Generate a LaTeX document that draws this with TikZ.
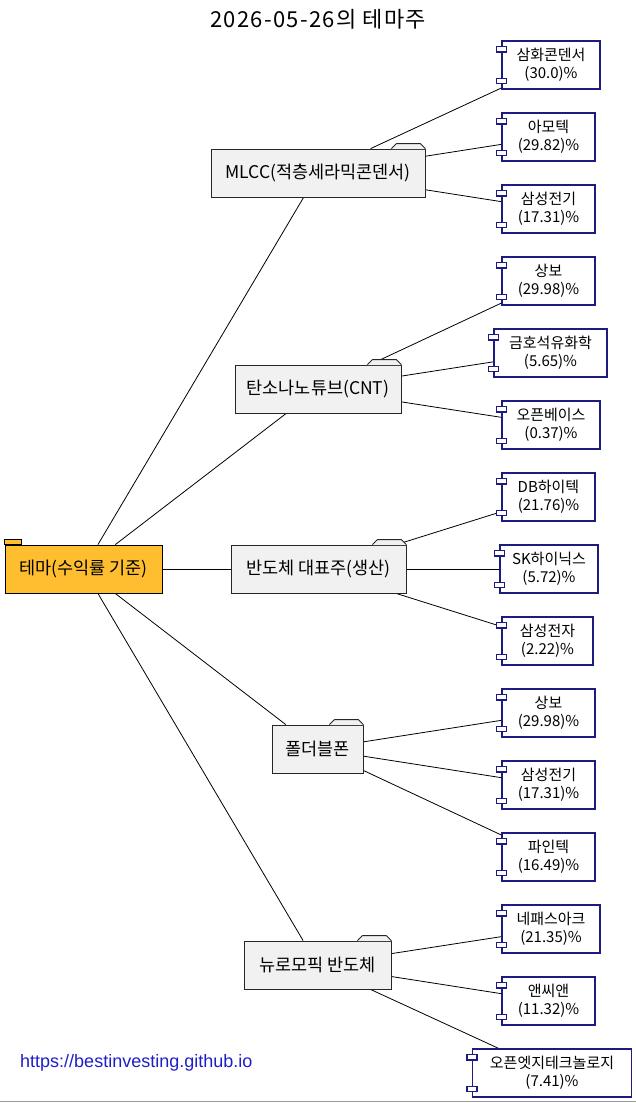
\documentclass[tikz,border=0pt]{standalone}
\usepackage{fontspec}
\setmainfont{Noto Sans CJK KR}
\newfontfamily\urlfont{Liberation Sans}
\newfontfamily\titlefont[LetterSpace=6]{Noto Sans CJK KR}
\usetikzlibrary{backgrounds}
\definecolor{rootfill}{RGB}{254,190,48}
\definecolor{themefill}{RGB}{241,241,241}
\definecolor{compborder}{RGB}{28,28,128}
\definecolor{urlblue}{RGB}{30,30,200}
\newcommand\mkcomp[5]{%
  \node[compbox, minimum width=#4pt] (#1) at (#2,#3) {#5};
  \draw[port] ([xshift=-5pt,yshift=-6pt]#1.north west) rectangle ++(10,5.5);
  \draw[port] ([xshift=-5pt,yshift=6pt]#1.south west) rectangle ++(10,-5.5);
}
\newcommand\mktheme[5]{%
  \node[themebox, minimum width=#4pt] (#1) at (#2,#3) {#5};
  \fill[themefill] ([xshift=-34pt,yshift=-0.6pt]#1.north east) -- ++(5,-5.6) -- ([xshift=-5pt,yshift=5pt]#1.north east) -- ([yshift=-0.6pt]#1.north east) -- cycle;
  \draw[tabline] ([xshift=-34pt]#1.north east) -- ++(5,-5) -- ([xshift=-5pt,yshift=5pt]#1.north east) -- (#1.north east);
}
\begin{document}
\begin{tikzpicture}[x=1pt,y=-1pt,
  rootbox/.style={draw=black, fill=rootfill, minimum height=48pt, inner sep=0pt, font=\fontsize{17.5}{20}\selectfont, line width=0.8pt},
  themebox/.style={draw=black!85, fill=themefill, minimum height=48pt, inner sep=0pt, font=\fontsize{17.5}{20}\selectfont, line width=0.8pt},
  tabline/.style={draw=black!85, line width=0.8pt, line join=round},
  compbox/.style={draw=compborder, fill=white, minimum height=48pt, inner sep=0pt, align=center, font=\fontsize{15}{18}\selectfont, line width=1.1pt},
  port/.style={draw=compborder, fill=white, line width=1.1pt},
  link/.style={draw=black, line width=0.8pt}]
\useasboundingbox (0,0) rectangle (636,1103);

\node[font=\titlefont\fontsize{22}{25}\selectfont] (title) at (318,19) {2026-05-26의 테마주};

% root
\node[rootbox, minimum width=157pt] (root) at (83.5,569) {테마(수익률 기준)};
\draw[draw=black, fill=rootfill, line width=0.8pt] (root.north west) rectangle ++(17,-5);

% themes
\mktheme{m1}{318}{173}{214}{MLCC(적층세라믹콘덴서)}
\mktheme{m2}{318}{389}{166}{탄소나노튜브(CNT)}
\mktheme{m3}{318.5}{569}{175}{반도체 대표주(생산)}
\mktheme{m4}{317.5}{749}{91}{폴더블폰}
\mktheme{m5}{317.5}{965}{147}{뉴로모픽 반도체}

% components
\mkcomp{c1}{551}{65}{98}{삼화콘덴서\\(30.0)\%}
\mkcomp{c2}{548.5}{137}{93}{아모텍\\(29.82)\%}
\mkcomp{c3}{548.5}{209}{93}{삼성전기\\(17.31)\%}
\mkcomp{c4}{548.5}{281}{93}{상보\\(29.98)\%}
\mkcomp{c5}{550.5}{353}{113}{금호석유화학\\(5.65)\%}
\mkcomp{c6}{551}{425}{98}{오픈베이스\\(0.37)\%}
\mkcomp{c7}{548.5}{497}{93}{DB하이텍\\(21.76)\%}
\mkcomp{c8}{549}{569}{98}{SK하이닉스\\(5.72)\%}
\mkcomp{c9}{547.5}{641}{91}{삼성전자\\(2.22)\%}
\mkcomp{c10}{548.5}{713}{93}{상보\\(29.98)\%}
\mkcomp{c11}{548.5}{785}{93}{삼성전기\\(17.31)\%}
\mkcomp{c12}{548.5}{857}{93}{파인텍\\(16.49)\%}
\mkcomp{c13}{551}{929}{98}{네패스아크\\(21.35)\%}
\mkcomp{c14}{548.5}{1001}{93}{앤씨앤\\(11.32)\%}
\mkcomp{c15}{552}{1073}{159}{오픈엣지테크놀로지\\(7.41)\%}

\begin{scope}[on background layer]
\foreach \t in {m1,m2,m3,m4,m5} \draw[link] (root) -- (\t);
\foreach \c in {c1,c2,c3} \draw[link] (m1) -- (\c);
\foreach \c in {c4,c5,c6} \draw[link] (m2) -- (\c);
\foreach \c in {c7,c8,c9} \draw[link] (m3) -- (\c);
\foreach \c in {c10,c11,c12} \draw[link] (m4) -- (\c);
\foreach \c in {c13,c14,c15} \draw[link] (m5) -- (\c);
\end{scope}

\node[anchor=west, inner sep=0pt, text=urlblue, font=\urlfont\fontsize{18}{21}\selectfont] (url) at (20,1063) {https://bestinvesting.github.io};

\draw[draw=black!40, line width=1.5pt] (0,1101.5) -- (636,1101.5);
\end{tikzpicture}
\end{document}
